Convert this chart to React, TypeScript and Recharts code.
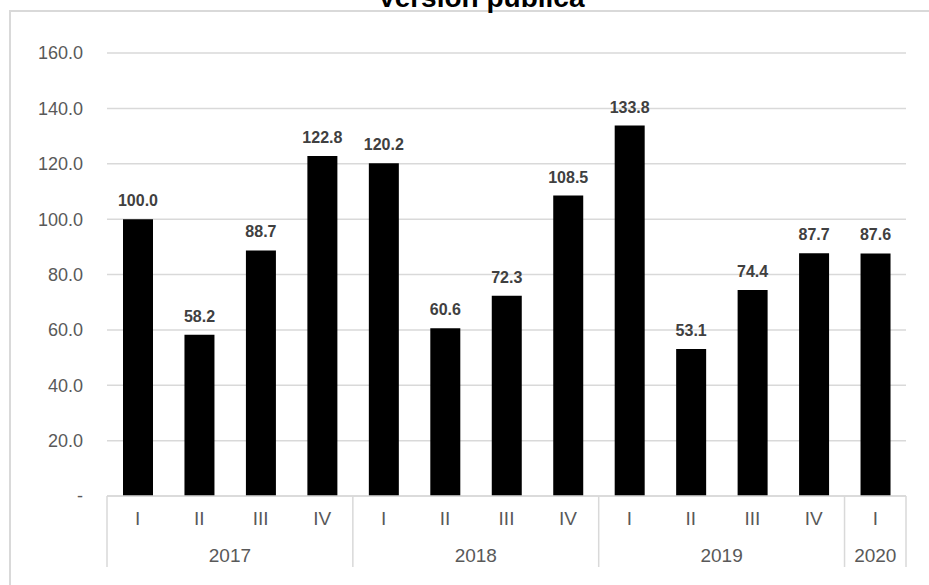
import { BarChart, Bar, XAxis, YAxis, CartesianGrid, LabelList } from 'recharts'

const quarters = ['I', 'II', 'III', 'IV', 'I', 'II', 'III', 'IV', 'I', 'II', 'III', 'IV', 'I']
const years = ['2017', '2017', '2017', '2017', '2018', '2018', '2018', '2018', '2019', '2019', '2019', '2019', '2020']
const values = [100.0, 58.2, 88.7, 122.8, 120.2, 60.6, 72.3, 108.5, 133.8, 53.1, 74.4, 87.7, 87.6]
const yTicks = [0, 20, 40, 60, 80, 100, 120, 140, 160]

const data = quarters.map((q, i) => ({ key: `${years[i]}-${q}`, q, year: years[i], value: values[i] }))

const FONT = '"Liberation Sans", Arial, sans-serif'
const GRID = '#d9d9d9'

function QuarterTick(props: any) {
  const { x, y, payload } = props
  const d = data[payload.index]
  return (
    <text x={x} y={y} dy="0.71em" textAnchor="middle" fontSize={19} fill="#595959" fontFamily={FONT}>
      {d ? d.q : ''}
    </text>
  )
}

function YearTick(props: any) {
  const { x, y, payload } = props
  const i = payload.index
  const off = payload.offset || 0
  const yr = years[i]
  const first = years.indexOf(yr)
  const last = years.lastIndexOf(yr)
  const mid = Math.floor((first + last) / 2)
  const even = (last - first + 1) % 2 === 0
  const top = y - 52.5
  const bottom = y + 18.5
  return (
    <g>
      {i === first && <line x1={x - off} x2={x - off} y1={top} y2={bottom} stroke={GRID} strokeWidth={1.5} />}
      {i === years.length - 1 && <line x1={x + off} x2={x + off} y1={top} y2={bottom} stroke={GRID} strokeWidth={1.5} />}
      {i === mid && (
        <text x={even ? x + off : x} y={y} dy="0.71em" textAnchor="middle" fontSize={19} fill="#595959" fontFamily={FONT}>
          {yr}
        </text>
      )}
    </g>
  )
}

export default function App() {
  return (
    <div style={{ position: 'fixed', left: 0, top: 0, width: 929, height: 585, overflow: 'hidden', background: '#fff' }}>
      <div
        style={{
          position: 'absolute', left: 9, top: 10, width: 940, height: 600,
          borderTop: `2px solid ${GRID}`, borderLeft: `2px solid ${GRID}`, boxSizing: 'border-box',
        }}
      />
      <div
        style={{
          position: 'absolute', left: 0, top: -18, width: 962, textAlign: 'center',
          fontFamily: FONT, fontWeight: 'bold', fontSize: 28, color: '#000', lineHeight: 'normal',
        }}
      >
        Versión pública
      </div>
      <div style={{ position: 'absolute', left: 0, top: 0 }}>
        <BarChart width={929} height={585} data={data} margin={{ top: 53, right: 23, bottom: 0, left: 37 }} barSize={30}>
          <CartesianGrid vertical={false} stroke={GRID} strokeWidth={1.5} />
          <YAxis
            domain={[0, 160]}
            ticks={yTicks}
            width={70}
            axisLine={false}
            tickLine={false}
            tickSize={0}
            tickMargin={24}
            tick={{ fontSize: 18, fill: '#595959', fontFamily: FONT }}
            tickFormatter={(v: number) => (v === 0 ? '-' : v.toFixed(1))}
          />
          <XAxis
            dataKey="key"
            height={30}
            interval={0}
            axisLine={{ stroke: GRID, strokeWidth: 1.5 }}
            tickLine={false}
            tickSize={0}
            tickMargin={15.5}
            tick={<QuarterTick />}
          />
          <XAxis
            dataKey="key"
            xAxisId="year"
            height={59}
            interval={0}
            axisLine={false}
            tickLine={false}
            tickSize={0}
            tickMargin={22.5}
            tick={<YearTick />}
          />
          <Bar dataKey="value" fill="#000" isAnimationActive={false}>
            <LabelList
              dataKey="value"
              position="top"
              offset={13}
              formatter={(v: any) => Number(v).toFixed(1)}
              style={{ fontSize: 16, fontWeight: 'bold', fill: '#404040', fontFamily: FONT }}
            />
          </Bar>
        </BarChart>
      </div>
    </div>
  )
}
